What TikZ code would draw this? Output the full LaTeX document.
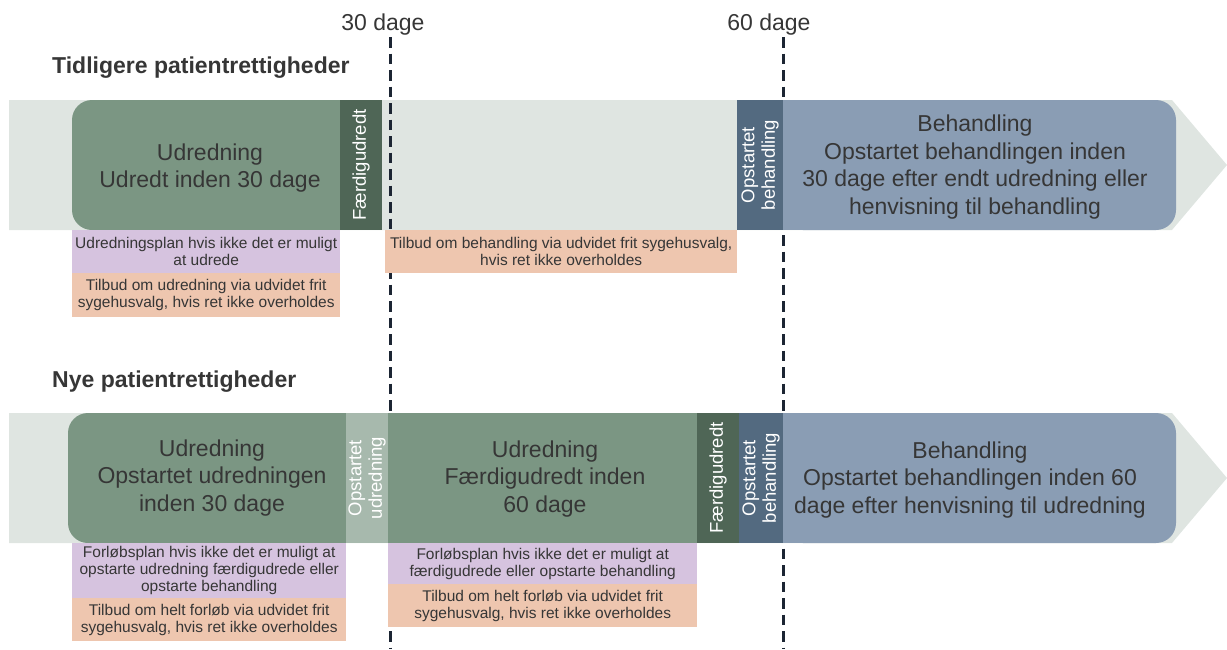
\documentclass[tikz,border=0pt]{standalone}
\usepackage{fontspec}
\setmainfont{Liberation Sans}
\definecolor{bandc}{HTML}{DFE5E1}
\definecolor{greenc}{HTML}{7B9683}
\definecolor{darkgc}{HTML}{4F6656}
\definecolor{lightgc}{HTML}{A7B9AD}
\definecolor{darkbc}{HTML}{536A80}
\definecolor{bluec}{HTML}{8A9DB4}
\definecolor{purplec}{HTML}{D6C3DF}
\definecolor{orangec}{HTML}{EEC6AF}
\definecolor{txtc}{HTML}{363636}
\definecolor{dashc}{HTML}{1C2533}
\begin{document}
\begin{tikzpicture}[x=1pt,y=-1pt,
  bandshape/.style={fill=bandc},
  bigtxt/.style={text=txtc, align=center, inner sep=0pt, font=\fontsize{23}{27.5}\selectfont},
  lblbox/.style={text=txtc, align=center, inner sep=0pt, anchor=north west, font=\fontsize{15.5}{17}\selectfont},
  stripbox/.style={text=white, align=center, inner sep=0pt, rotate=90, minimum width=130pt, font=\fontsize{18.5}{20.5}\selectfont},
  titletxt/.style={text=txtc, anchor=base west, inner sep=0pt, font=\fontsize{23}{27}\selectfont\bfseries},
  daytxt/.style={text=txtc, anchor=base, inner sep=0pt, font=\fontsize{23}{27}\selectfont},
  dashline/.style={draw=dashc, line width=3pt, dash pattern=on 10.5pt off 6pt}
]
\useasboundingbox (0,0) rectangle (1227,649);

% background arrow bands
\fill[bandshape] (9,100) -- (1172,100) -- (1227,165) -- (1172,230) -- (9,230) -- cycle;
\fill[bandshape] (9,413) -- (1172,413) -- (1227,478) -- (1172,543) -- (9,543) -- cycle;

% dashed day lines
\coordinate (d30top) at (390,37);
\coordinate (d30bot) at (390,649);
\coordinate (d60top) at (783,37);
\coordinate (d60bot) at (783,649);
\draw[dashline] (d30top) -- (d30bot);
\draw[dashline] (d60top) -- (d60bot);

% day labels
\node[daytxt] (day30) at (383,30) {30 dage};
\node[daytxt] (day60) at (769,30) {60 dage};

% titles
\node[titletxt] (t1) at (52,73) {Tidligere patientrettigheder};
\node[titletxt] (t2) at (52,387) {Nye patientrettigheder};

% ---------- top row ----------
\fill[greenc, rounded corners=20pt] (72,100) rectangle (340,230);
\fill[greenc] (200,100) rectangle (340,230);
\node[bigtxt] (u1) at (210,168) {Udredning\\Udredt inden 30 dage};

\node[stripbox, fill=darkgc, minimum height=42pt] (f1) at (361,165) {Færdigudredt};
\node[stripbox, fill=darkbc, minimum height=46pt] (ob1) at (760,165) {Opstartet\\behandling};

\fill[bluec, rounded corners=20pt] (783,100) rectangle (1176,230);
\fill[bluec] (783,100) rectangle (900,230);
\node[bigtxt] (b1) at (975,167) {Behandling\\Opstartet behandlingen inden\\30 dage efter endt udredning eller\\henvisning til behandling};

\node[lblbox, fill=purplec, minimum width=268pt, minimum height=43pt] (p1) at (72,230) {Udredningsplan hvis ikke det er muligt\\at udrede};
\node[lblbox, fill=orangec, minimum width=268pt, minimum height=44pt] (o1) at (72,273) {Tilbud om udredning via udvidet frit\\sygehusvalg, hvis ret ikke overholdes};
\node[lblbox, fill=orangec, minimum width=352pt, minimum height=43pt] (o2) at (385,230) {Tilbud om behandling via udvidet frit sygehusvalg,\\hvis ret ikke overholdes};

% ---------- bottom row ----------
\fill[greenc, rounded corners=20pt] (68,413) rectangle (346,543);
\fill[greenc] (200,413) rectangle (346,543);
\node[bigtxt] (u2) at (212,478) {Udredning\\Opstartet udredningen\\inden 30 dage};

\node[stripbox, fill=lightgc, minimum height=42pt] (ou2) at (367,478) {Opstartet\\udredning};

\fill[greenc] (388,413) rectangle (697,543);
\node[bigtxt] (u3) at (545,479) {Udredning\\Færdigudredt inden\\60 dage};

\node[stripbox, fill=darkgc, minimum height=42pt] (f2) at (718,478) {Færdigudredt};
\node[stripbox, fill=darkbc, minimum height=44pt] (ob2) at (761,478) {Opstartet\\behandling};

\fill[bluec, rounded corners=20pt] (783,413) rectangle (1176,543);
\fill[bluec] (783,413) rectangle (900,543);
\node[bigtxt] (b2) at (970,480) {Behandling\\Opstartet behandlingen inden 60\\dage efter henvisning til udredning};

\node[lblbox, fill=purplec, minimum width=274pt, minimum height=55pt] (p2) at (72,543) {Forløbsplan hvis ikke det er muligt at\\opstarte udredning færdigudrede eller\\opstarte behandling};
\node[lblbox, fill=orangec, minimum width=274pt, minimum height=43pt] (o3) at (72,598) {Tilbud om helt forløb via udvidet frit\\sygehusvalg, hvis ret ikke overholdes};
\node[lblbox, fill=purplec, minimum width=309pt, minimum height=41pt] (p3) at (388,543) {Forløbsplan hvis ikke det er muligt at\\færdigudrede eller opstarte behandling};
\node[lblbox, fill=orangec, minimum width=309pt, minimum height=43pt] (o4) at (388,584) {Tilbud om helt forløb via udvidet frit\\sygehusvalg, hvis ret ikke overholdes};
\end{tikzpicture}
\end{document}
